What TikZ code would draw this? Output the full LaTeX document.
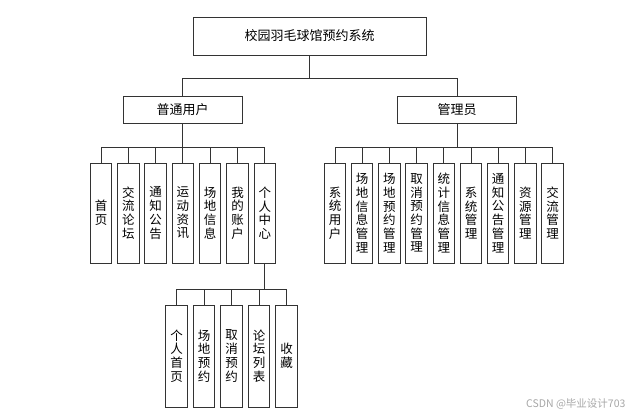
\documentclass[tikz,border=0pt]{standalone}
\usepackage{fontspec}
\setmainfont{Noto Sans CJK SC}
\begin{document}
\begin{tikzpicture}[x=1pt, y=-1pt]
		% STYLES
		\tikzstyle{cadre} = [draw=black!80, line width=1pt, inner sep=0pt, align=center]
		\tikzstyle{titre} = [cadre, minimum width=233pt, minimum height=38pt, font=\fontsize{13}{15}\selectfont]
		\tikzstyle{role} = [cadre, minimum width=119pt, minimum height=27pt, font=\fontsize{13}{15}\selectfont]
		\tikzstyle{feuille} = [cadre, minimum width=21.5pt, minimum height=100pt, font=\fontsize{12.5}{13.7}\selectfont]
		\tikzstyle{lien} = [line width=0.9pt, draw=black!80]

		\useasboundingbox (0,0) rectangle (636,415);

		% RACINE
		\node[titre] (systeme) at (309.5, 36) {校园羽毛球馆预约系统};
		\coordinate (barre) at (309.5, 78);

		% ROLES
		\node[role] (usager) at (182.5, 109.5) {普通用户};
		\node[role] (admin) at (457, 109.5) {管理员};

		\draw[lien] (systeme.south) -- (barre);
		\draw[lien] (barre) -| (usager.north);
		\draw[lien] (barre) -| (admin.north);

		% MODULES UTILISATEUR
		\foreach \nom [count=\i from 0] in {{首\\页}, {交\\流\\论\\坛}, {通\\知\\公\\告}, {运\\动\\资\\讯}, {场\\地\\信\\息}, {我\\的\\账\\户}, {个\\人\\中\\心}}
		{
			\node[feuille] (u\i) at (101 + 27.3*\i, 213) {\nom};
			\draw[lien] (usager.south) -- ++(0, 24) -| (u\i.north);
		}

		% MODULES ADMIN
		\foreach \nom [count=\i from 0] in {{系\\统\\用\\户}, {场\\地\\信\\息\\管\\理}, {场\\地\\预\\约\\管\\理}, {取\\消\\预\\约\\管\\理}, {统\\计\\信\\息\\管\\理}, {系\\统\\管\\理}, {通\\知\\公\\告\\管\\理}, {资\\源\\管\\理}, {交\\流\\管\\理}}
		{
			\node[feuille] (a\i) at (335 + 27.2*\i, 213) {\nom};
			\draw[lien] (admin.south) -- ++(0, 24) -| (a\i.north);
		}

		% CENTRE PERSONNEL
		\foreach \nom [count=\i from 0] in {{个\\人\\首\\页}, {场\\地\\预\\约}, {取\\消\\预\\约}, {论\\坛\\列\\表}, {收\\藏}}
		{
			\node[feuille, minimum height=102pt] (p\i) at (176.5 + 27.5*\i, 356) {\nom};
			\draw[lien] (u6.south) -- ++(0, 26) -| (p\i.north);
		}

		% FILIGRANE
		\node[anchor=east, font=\fontsize{10.5}{12}\selectfont, text=black!35] (filigrane) at (629, 404) {CSDN @毕业设计703};

	\end{tikzpicture}
\end{document}
